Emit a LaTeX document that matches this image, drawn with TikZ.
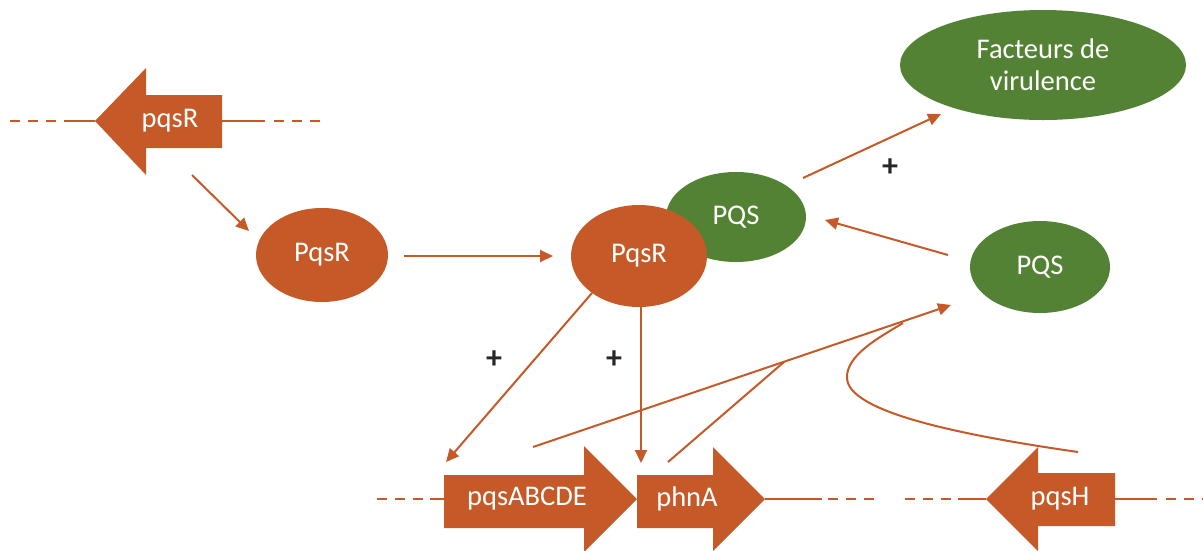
\documentclass[tikz,border=0pt]{standalone}
\usepackage{fontspec}
\setmainfont{Carlito}
\usetikzlibrary{arrows.meta}
\definecolor{org}{RGB}{197,90,40}
\definecolor{grn}{RGB}{84,130,53}
\begin{document}
\begin{tikzpicture}[x=1pt,y=-1pt,
  lbl/.style={text=white,font=\fontsize{28.5}{32}\selectfont},
  plus/.style={font=\fontsize{32}{34}\selectfont\bfseries,text=black!85},
  link/.style={draw=org,line width=2pt},
  arr/.style={link,-{Triangle[length=13pt,width=12pt]}},
  dsh/.style={draw=org,line width=2pt,dash pattern=on 10pt off 8pt},
  gene/.style={fill=org}]
\useasboundingbox (0,0) rectangle (1203,550);
% gene lines
\draw[dsh] (10,121) -- (65,121);
\draw[link] (65,121) -- (95,121);
\draw[link] (222,121) -- (265,121);
\draw[dsh] (274,121) -- (320,121);
\draw[dsh] (377,499) -- (430,499);
\draw[link] (430,499) -- (444,499);
\draw[link] (765,499) -- (822,499);
\draw[dsh] (828,499) -- (878,499);
\draw[dsh] (905,499) -- (958,499);
\draw[link] (958,499) -- (986,499);
\draw[link] (1115,499) -- (1157,499);
\draw[dsh] (1166,499) -- (1203,499);
% genes
\fill[gene] (95,121) -- (146,68) -- (146,95) -- (222,95) -- (222,148) -- (146,148) -- (146,175) -- cycle;
\node[lbl] (gR) at (170,121) {pqsR};
\fill[gene] (444,475) -- (584,475) -- (584,446) -- (637,499) -- (584,552) -- (584,528) -- (444,528) -- cycle;
\node[lbl] (gA) at (527,499) {pqsABCDE};
\fill[gene] (637,475) -- (713,475) -- (713,447) -- (765,499) -- (713,551) -- (713,528) -- (637,528) -- cycle;
\node[lbl] (gP) at (687,499) {phnA};
\fill[gene] (986,499) -- (1038,447) -- (1038,473) -- (1115,473) -- (1115,526) -- (1038,526) -- (1038,551) -- cycle;
\node[lbl] (gH) at (1060,499) {pqsH};
% ellipses
\fill[org] (322,255) ellipse [x radius=66,y radius=47];
\node[lbl] (r1) at (322,255) {PqsR};
\fill[grn] (736,217) ellipse [x radius=70,y radius=45];
\node[lbl] (q1) at (736,217) {PQS};
\fill[org] (639,256) ellipse [x radius=68,y radius=51];
\node[lbl] (r2) at (639,256) {PqsR};
\fill[grn] (1043,65) ellipse [x radius=143,y radius=55];
\node[lbl,align=center] (fv) at (1043,65) {Facteurs de\\virulence};
\fill[grn] (1040,267) ellipse [x radius=70,y radius=46];
\node[lbl] (q2) at (1040,267) {PQS};
% coordinates
\coordinate (a1) at (192,175); \coordinate (a2) at (249,231);
\coordinate (b1) at (404,256); \coordinate (b2) at (553,256);
\coordinate (c1) at (803,178); \coordinate (c2) at (941,114);
\coordinate (d1) at (948,255); \coordinate (d2) at (825,220);
\coordinate (e1) at (592,293); \coordinate (e2) at (446,462);
\coordinate (f1) at (641,307); \coordinate (f2) at (641,463);
\coordinate (g1) at (533,447); \coordinate (g2) at (951,305);
\coordinate (h1) at (668,462); \coordinate (h2) at (784,362);
\coordinate (k1) at (1078,452); \coordinate (k2) at (903,323);
% connectors
\draw[arr] (a1) -- (a2);
\draw[arr] (b1) -- (b2);
\draw[arr] (c1) -- (c2);
\draw[arr] (d1) -- (d2);
\draw[arr] (e1) -- (e2);
\draw[arr] (f1) -- (f2);
\draw[arr] (g1) -- (g2);
\draw[link] (h1) -- (h2);
\draw[link] (k1) .. controls (960,435) and (848,412) .. (847,378) .. controls (846,355) and (880,337) .. (k2);
% plus signs
\node[plus] (p1) at (890,168) {+};
\node[plus] (p2) at (494,360) {+};
\node[plus] (p3) at (614,360) {+};
\end{tikzpicture}
\end{document}
